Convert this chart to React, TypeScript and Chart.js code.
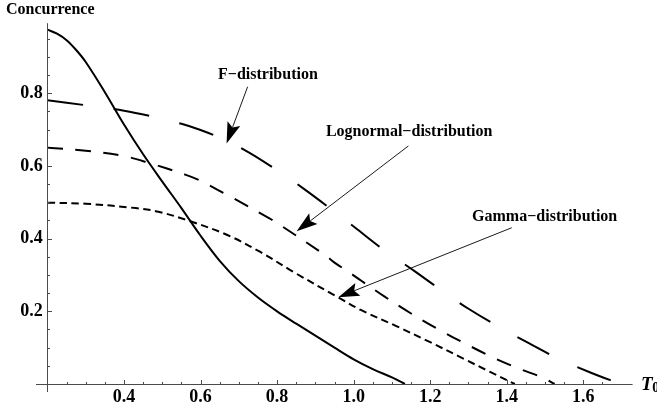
import React, { useEffect, useRef } from "react";
import { Chart, registerables } from "chart.js";

Chart.register(...registerables);

// ---- axis ranges & tick labels ----
const X_MIN = 0.2;
const X_MAX = 1.7;
const Y_MIN = 0;
const Y_MAX = 0.99;
const xTickLabels = [0.4, 0.6, 0.8, 1.0, 1.2, 1.4, 1.6];
const yTickLabels = [0.2, 0.4, 0.6, 0.8];
const xAxisTitle = "T";
const xAxisTitleSub = "0";
const yAxisTitle = "Concurrence";

// ---- series ----
const solidX = [0.2, 0.225, 0.25, 0.275, 0.3, 0.35, 0.4, 0.45, 0.5, 0.55, 0.6, 0.65, 0.7, 0.75, 0.8, 0.85, 0.9, 0.95, 1.0, 1.05, 1.1, 1.134];
const solidY = [0.975, 0.964, 0.946, 0.919, 0.886, 0.803, 0.714, 0.632, 0.557, 0.484, 0.408, 0.339, 0.283, 0.238, 0.2, 0.166, 0.133, 0.1, 0.068, 0.041, 0.018, 0.0];

const fDistX = [0.2, 0.3, 0.4, 0.47, 0.55, 0.6, 0.64, 0.72, 0.8, 0.87, 0.94, 1.01, 1.08, 1.16, 1.23, 1.3, 1.38, 1.46, 1.54, 1.62, 1.697];
const fDistY = [0.781, 0.767, 0.752, 0.737, 0.716, 0.699, 0.682, 0.641, 0.588, 0.537, 0.482, 0.425, 0.368, 0.31, 0.257, 0.207, 0.157, 0.111, 0.067, 0.031, 0.0];

const logNormX = [0.2, 0.3, 0.4, 0.46, 0.56, 0.6, 0.67, 0.78, 0.8, 0.925, 0.95, 0.99, 1.02, 1.08, 1.15, 1.22, 1.29, 1.36, 1.43, 1.495, 1.525];
const logNormY = [0.65, 0.642, 0.627, 0.61, 0.576, 0.559, 0.52, 0.456, 0.443, 0.355, 0.334, 0.306, 0.284, 0.241, 0.194, 0.151, 0.112, 0.075, 0.043, 0.017, 0.0];

const gammaX = [0.2, 0.3, 0.43, 0.49, 0.57, 0.67, 0.755, 0.84, 0.955, 1.02, 1.11, 1.2, 1.29, 1.355, 1.421];
const gammaY = [0.499, 0.496, 0.484, 0.474, 0.449, 0.41, 0.364, 0.31, 0.241, 0.203, 0.16, 0.115, 0.068, 0.034, 0.0];

// ---- annotations (data coordinates) ----
const annotationText = ["F\u2212distribution", "Lognormal\u2212distribution", "Gamma\u2212distribution"];
const annotationLabelX = [0.776, 1.145, 1.499];
const annotationLabelY = [0.85, 0.694, 0.459];
const annotationFromX = [0.723, 1.143, 1.413];
const annotationFromY = [0.818, 0.655, 0.43];
const annotationToX = [0.668, 0.851, 0.96];
const annotationToY = [0.662, 0.42, 0.239];

const SERIF = '"Liberation Serif", "Times New Roman", serif';

function toPoints(xs: number[], ys: number[]) {
  return xs.map((x, i) => ({ x, y: ys[i] }));
}

const axesPlugin = {
  id: "mathematicaAxes",
  afterDatasetsDraw(chart: any) {
    const ctx = chart.ctx as CanvasRenderingContext2D;
    const xs = chart.scales.x;
    const ys = chart.scales.y;
    const area = chart.chartArea;
    const x0 = Math.round(xs.getPixelForValue(X_MIN)) + 0.5;
    const y0 = Math.round(ys.getPixelForValue(0)) + 0.5;
    const xEnd = xs.getPixelForValue(X_MAX);

    ctx.save();
    ctx.strokeStyle = "#4a4a4a";
    ctx.lineWidth = 1;
    ctx.beginPath();
    ctx.moveTo(x0 - 11.5, y0);
    ctx.lineTo(xEnd + 11, y0);
    ctx.moveTo(x0, y0 + 7.5);
    ctx.lineTo(x0, area.top - 1);
    ctx.stroke();

    // ticks (inward), major every 0.2, minor every 0.05
    ctx.beginPath();
    for (let i = 5; i <= 33; i++) {
      const v = i * 0.05;
      if (v > X_MAX + 1e-6) break;
      const major = i % 4 === 0;
      const px = Math.round(xs.getPixelForValue(v)) + 0.5;
      ctx.moveTo(px, y0);
      ctx.lineTo(px, y0 - (major ? 4.5 : 2.5));
    }
    for (let i = 1; i <= 19; i++) {
      const v = i * 0.05;
      if (v > Y_MAX) break;
      const major = i % 4 === 0;
      const py = Math.round(ys.getPixelForValue(v)) + 0.5;
      ctx.moveTo(x0, py);
      ctx.lineTo(x0 + (major ? 4.5 : 2.5), py);
    }
    ctx.stroke();

    // axis titles
    ctx.fillStyle = "#000";
    ctx.textBaseline = "alphabetic";
    ctx.textAlign = "left";
    ctx.font = `bold 16px ${SERIF}`;
    ctx.fillText(yAxisTitle, x0 - 41.5, area.top - 10.5);
    ctx.font = `italic bold 19px ${SERIF}`;
    ctx.fillText(xAxisTitle, xEnd + 19.5, y0 + 5);
    const tw = ctx.measureText(xAxisTitle).width;
    ctx.font = `bold 14px ${SERIF}`;
    ctx.fillText(xAxisTitleSub, xEnd + 19.5 + tw - 0.5, y0 + 7.5);

    // annotations
    ctx.font = `bold 16px ${SERIF}`;
    ctx.textAlign = "center";
    ctx.textBaseline = "middle";
    for (let i = 0; i < annotationText.length; i++) {
      const lx = xs.getPixelForValue(annotationLabelX[i]);
      const ly = ys.getPixelForValue(annotationLabelY[i]);
      ctx.fillText(annotationText[i], lx, ly);
      const fx = xs.getPixelForValue(annotationFromX[i]);
      const fy = ys.getPixelForValue(annotationFromY[i]);
      const tx = xs.getPixelForValue(annotationToX[i]);
      const ty = ys.getPixelForValue(annotationToY[i]);
      const dx = tx - fx;
      const dy = ty - fy;
      const len = Math.hypot(dx, dy);
      const ux = dx / len;
      const uy = dy / len;
      const nx = -uy;
      const ny = ux;
      const L = 21;
      const W = 6.8;
      const notch = 4;
      ctx.beginPath();
      ctx.lineWidth = 0.9;
      ctx.strokeStyle = "#000";
      ctx.moveTo(fx, fy);
      ctx.lineTo(tx - ux * (L - notch), ty - uy * (L - notch));
      ctx.stroke();
      ctx.beginPath();
      ctx.moveTo(tx, ty);
      ctx.lineTo(tx - ux * L + nx * W, ty - uy * L + ny * W);
      ctx.lineTo(tx - ux * (L - notch), ty - uy * (L - notch));
      ctx.lineTo(tx - ux * L - nx * W, ty - uy * L - ny * W);
      ctx.closePath();
      ctx.fill();
    }
    ctx.restore();
  },
};

export default function App() {
  const canvasRef = useRef<HTMLCanvasElement | null>(null);

  useEffect(() => {
    if (!canvasRef.current) return;
    const common = {
      showLine: true,
      pointRadius: 0,
      borderColor: "#000",
      backgroundColor: "#000",
      borderWidth: 2,
      fill: false,
      tension: 0.35,
      borderCapStyle: "butt" as const,
    };
    const chart = new Chart(canvasRef.current, {
      type: "line",
      data: {
        datasets: [
          { ...common, label: "Concurrence", data: toPoints(solidX, solidY) },
          { ...common, label: "F-distribution", data: toPoints(fDistX, fDistY), borderDash: [36, 31] },
          { ...common, label: "Lognormal-distribution", data: toPoints(logNormX, logNormY), borderDash: [15.5, 12.5] },
          { ...common, label: "Gamma-distribution", data: toPoints(gammaX, gammaY), borderDash: [7.5, 4.5] },
        ],
      },
      options: {
        animation: false,
        responsive: true,
        maintainAspectRatio: false,
        layout: { padding: { left: 0, right: 35.4, top: 24.2, bottom: 0 } },
        plugins: { legend: { display: false }, tooltip: { enabled: false }, title: { display: false } },
        scales: {
          x: {
            type: "linear",
            min: X_MIN,
            max: X_MAX,
            grid: { display: false, tickLength: 0 },
            border: { display: false },
            afterBuildTicks: (scale: any) => {
              scale.ticks = xTickLabels.map((v) => ({ value: v }));
            },
            afterFit: (scale: any) => {
              scale.height = 27;
            },
            ticks: {
              color: "#000",
              padding: 3,
              maxRotation: 0,
              autoSkip: false,
              font: { family: SERIF, size: 18, weight: "bold" },
              callback: (v: any) => Number(v).toFixed(1),
            },
          },
          y: {
            type: "linear",
            min: Y_MIN,
            max: Y_MAX,
            grid: { display: false, tickLength: 0 },
            border: { display: false },
            afterBuildTicks: (scale: any) => {
              scale.ticks = yTickLabels.map((v) => ({ value: v }));
            },
            afterFit: (scale: any) => {
              scale.width = 47.45;
            },
            ticks: {
              color: "#000",
              padding: 4.7,
              autoSkip: false,
              font: { family: SERIF, size: 18, weight: "bold" },
              callback: (v: any) => Number(v).toFixed(1),
            },
          },
        },
      },
      plugins: [axesPlugin],
    } as any);
    return () => chart.destroy();
  }, []);

  return (
    <div style={{ position: "fixed", left: 0, top: 0, width: 657, height: 411, background: "#fff" }}>
      <canvas ref={canvasRef} width={657} height={411} />
    </div>
  );
}
